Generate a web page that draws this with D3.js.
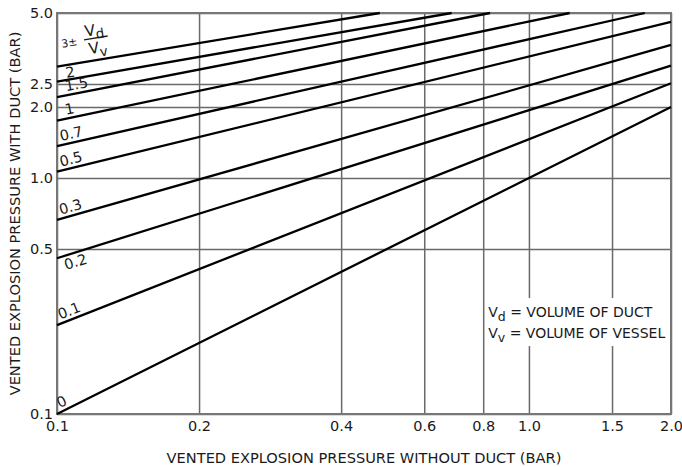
<!DOCTYPE html>
<html lang="en">
<head>
<meta charset="UTF-8">
<title>Vented explosion pressure with duct</title>
<script src="https://d3js.org/d3.v7.min.js"></script>
<style>
  body { margin: 0; background: #fff; }
  svg text { font-family: "DejaVu Sans", Verdana, sans-serif; fill: #1a1a1a; }
  .grid line { stroke: #6a6a6a; stroke-width: 1.5px; }
  .grid .domain { display: none; }
  .frame { fill: none; stroke: #777; stroke-width: 2px; }
  .curve { fill: none; stroke: #000; stroke-width: 2.3px; }
  .tick text { font-size: 14.5px; }
  .curve-label { font-size: 14.5px; }
  .axis-title { font-size: 14.6px; }
  .legend text { font-size: 14px; }
</style>
</head>
<body>
<svg width="682" height="467"></svg>
<script>
// Vd/Vv ratio of each curve, and its two ends (lines are straight on log-log)
const ratios = ["0", "0.1", "0.2", "0.3", "0.5", "0.7", "1", "1.5", "2", "3±"];
const startX = [0.1, 0.1, 0.1, 0.1, 0.1, 0.1, 0.1, 0.1, 0.1, 0.1];
const startY = [0.1, 0.238, 0.457, 0.664, 1.063, 1.366, 1.75, 2.20, 2.56, 2.96];
const endX = [2.0, 2.0, 2.0, 2.0, 2.0, 1.76, 1.22, 0.827, 0.686, 0.483];
const endY = [2.0, 2.52, 2.99, 3.66, 4.59, 5.0, 5.0, 5.0, 5.0, 5.0];

const xTicks = [0.1, 0.2, 0.4, 0.6, 0.8, 1.0, 1.5, 2.0];
const yTicks = [0.1, 0.5, 1.0, 2.0, 2.5, 5.0];
const xTitle = "VENTED EXPLOSION PRESSURE WITHOUT DUCT (BAR)";
const yTitle = "VENTED EXPLOSION PRESSURE WITH DUCT (BAR)";
const legendRows = [["d", " = VOLUME OF DUCT"], ["v", " = VOLUME OF VESSEL"]];

const margin = {top: 13, right: 11, bottom: 53, left: 57};
const width = 682 - margin.left - margin.right;
const height = 467 - margin.top - margin.bottom;

const svg = d3.select("svg")
  .append("g")
    .attr("transform", "translate(" + margin.left + "," + margin.top + ")");

const x = d3.scaleLog().domain([0.1, 2.0]).range([0, width]);
const y = d3.scaleLog().domain([0.1, 5.0]).range([height, 0]);

// grid + tick labels
svg.append("g")
    .attr("class", "grid")
    .attr("transform", "translate(0," + height + ")")
    .call(d3.axisBottom(x).tickValues(xTicks).tickFormat(d3.format(".1f"))
      .tickSizeInner(-height).tickSizeOuter(0).tickPadding(7));

svg.append("g")
    .attr("class", "grid")
    .call(d3.axisLeft(y).tickValues(yTicks).tickFormat(d3.format(".1f"))
      .tickSizeInner(-width).tickSizeOuter(0).tickPadding(4));

svg.append("rect")
    .attr("class", "frame")
    .attr("width", width)
    .attr("height", height);

// legend box (hides grid lines behind it)
const legend = svg.append("g")
    .attr("class", "legend")
    .attr("transform", "translate(" + (x(0.8) + 3) + "," + y(0.31) + ")");
legend.append("rect")
    .attr("width", x(2.0) - x(0.8) - 6)
    .attr("height", 48)
    .attr("fill", "#fff");
legendRows.forEach((r, i) => {
  const t = legend.append("text")
      .attr("x", 2)
      .attr("y", 19 + i * 21);
  t.append("tspan").text("V");
  t.append("tspan").attr("dy", 4).attr("font-size", "12.5px").text(r[0]);
  t.append("tspan").attr("dy", -4).text(r[1]);
});

// curves
const curves = ratios.map((r, i) => ({
  label: r,
  pts: [[startX[i], startY[i]], [endX[i], endY[i]]]
}));

const line = d3.line()
    .x(d => x(d[0]))
    .y(d => y(d[1]));

svg.selectAll(".curve")
    .data(curves)
  .enter().append("path")
    .attr("class", "curve")
    .attr("d", d => line(d.pts));

// curve labels, rotated along each line
curves.forEach(c => {
  const p0 = [x(c.pts[0][0]), y(c.pts[0][1])];
  const p1 = [x(c.pts[1][0]), y(c.pts[1][1])];
  const ang = Math.atan2(p1[1] - p0[1], p1[0] - p0[0]) * 180 / Math.PI;
  const g = svg.append("g")
      .attr("transform", "translate(" + p0[0] + "," + p0[1] + ") rotate(" + ang + ")");
  if (c.label === "3±") {
    g.append("text")
        .attr("x", 8).attr("y", -18)
        .attr("font-size", "11px")
        .text("3±");
    g.append("line")
        .attr("x1", 31).attr("x2", 55)
        .attr("y1", -22).attr("y2", -22)
        .attr("stroke", "#1a1a1a").attr("stroke-width", 1.3);
    const top = g.append("text").attr("x", 33).attr("y", -25).attr("font-size", "15.5px");
    top.append("tspan").text("V");
    top.append("tspan").attr("dy", 4).attr("font-size", "13.5px").text("d");
    const bot = g.append("text").attr("x", 34).attr("y", -7).attr("font-size", "15.5px");
    bot.append("tspan").text("V");
    bot.append("tspan").attr("dy", 4).attr("font-size", "13.5px").text("v");
  } else {
    g.append("text")
        .attr("class", "curve-label")
        .attr("x", c.label === "2" || c.label === "1" || c.label === "1.5" ? 10 : 5)
        .attr("y", c.label === "0.2" ? 14 : (c.label === "2" ? -2 : -4))
        .text(c.label);
  }
});

// axis titles
svg.append("text")
    .attr("class", "axis-title")
    .attr("x", width / 2)
    .attr("y", height + 49)
    .attr("text-anchor", "middle")
    .text(xTitle);

svg.append("text")
    .attr("class", "axis-title")
    .attr("transform", "rotate(-90)")
    .attr("x", -height / 2)
    .attr("y", -37)
    .attr("text-anchor", "middle")
    .text(yTitle);
</script>
</body>
</html>
